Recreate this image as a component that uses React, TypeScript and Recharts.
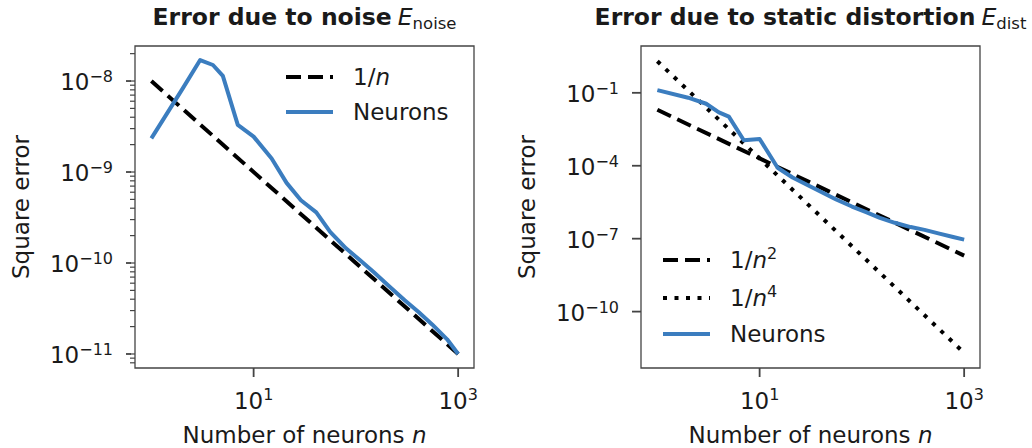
import React from "react";
import { LineChart, Line, XAxis, YAxis, Legend, Label, ReferenceArea } from "recharts";

// number of neurons, shared by both panels
const nNeurons = [1, 2, 3, 4, 5, 7, 10, 15, 21, 29, 41, 56, 80, 110, 150, 210, 300, 410, 560, 780, 1000];
// square error, noise panel
const noiseErr = [
  2.34e-9, 8.1e-9, 1.7e-8, 1.5e-8, 1.14e-8, 3.3e-9, 2.45e-9, 1.41e-9, 7.6e-10, 4.9e-10, 3.6e-10,
  2.2e-10, 1.45e-10, 1.07e-10, 7.9e-11, 5.6e-11, 3.9e-11, 2.9e-11, 2.1e-11, 1.45e-11, 1.0e-11,
];
// square error, static distortion panel
const distErr = [
  0.129, 0.063, 0.0355, 0.0158, 0.0105, 1.12e-3, 1.26e-3, 8.3e-5, 3.3e-5, 1.66e-5, 7.9e-6,
  4.1e-6, 2.1e-6, 1.23e-6, 7.2e-7, 4.5e-7, 3.0e-7, 2.3e-7, 1.66e-7, 1.17e-7, 9.1e-8,
];

// guide lines are straight on log-log axes, so the end points are enough
const guideN = [1, 1000];
const noiseGuide = [1e-8, 1e-11]; // 1/n
const distGuide2 = [2e-2, 2e-8]; // 1/n^2
const distGuide4 = [2, 2e-12]; // 1/n^4

const xTicks = [10, 1000];
const noiseTicks = [1e-8, 1e-9, 1e-10, 1e-11];
const noiseMinor = [
  8e-12, 9e-12, 2e-11, 3e-11, 4e-11, 5e-11, 6e-11, 7e-11, 8e-11, 9e-11, 2e-10, 3e-10, 4e-10, 5e-10,
  6e-10, 7e-10, 8e-10, 9e-10, 2e-9, 3e-9, 4e-9, 5e-9, 6e-9, 7e-9, 8e-9, 9e-9, 2e-8,
];
const distTicks = [1e-1, 1e-4, 1e-7, 1e-10];

const xDomain: [number, number] = [10 ** -0.16, 10 ** 3.155];
const noiseDomain: [number, number] = [10 ** -11.154, 10 ** -7.615];
const distDomain: [number, number] = [10 ** -12.32, 10 ** 0.926];

const FONT = "DejaVu Sans";
const INK = "#1a1a1a";
const FRAME = "#444";
const BLUE = "#3b7dbf";

const PLOT_TOP = 46;
const PLOT_BOTTOM = 368;
const H = 448;
const Y_AXIS_W = 60;
const X_AXIS_H = 40;

type Series = {
  key: string;
  n: number[];
  v: number[];
  stroke: string;
  width: number;
  dash?: string;
  label: React.ReactNode;
};

const toPts = (n: number[], v: number[]) => n.map((x, i) => ({ n: x, v: v[i] }));

const expText = (v: number) => {
  const e = Math.round(Math.log10(v));
  return e < 0 ? "\u2212" + Math.abs(e) : String(e);
};

function Panel(props: {
  left: number;
  width: number;
  padLeft: number;
  padRight: number;
  yDomain: [number, number];
  yTicks: number[];
  yMinor?: number[];
  series: Series[];
  legend: { x: number; y: number; rows: number[] };
  title: React.ReactNode;
}) {
  const { left, width, padLeft, padRight, yDomain, yTicks, yMinor = [], series, legend, title } = props;
  const plotW = width - padLeft - padRight;
  const hasMinor = yMinor.length > 0;

  // axis draws short tick lines; majors get extended here when the axis has minor ticks
  const YTick = (p: any) => {
    const v = p.payload.value;
    const major = yTicks.includes(v);
    if (!major) return <g />;
    return (
      <g>
        {hasMinor && (
          <line x1={padLeft - 4} x2={padLeft - 9} y1={p.y} y2={p.y} stroke={FRAME} strokeWidth={1.8} />
        )}
        <text x={padLeft - 22} y={p.y + 9} textAnchor="end" fontFamily={FONT} fontSize={23} fill={INK}>
          10
          <tspan dy={-8} fontSize={16}>
            {expText(v)}
          </tspan>
        </text>
      </g>
    );
  };

  const XTick = (p: any) => (
    <text x={p.x} y={PLOT_BOTTOM + 41} textAnchor="middle" fontFamily={FONT} fontSize={23} fill={INK}>
      10
      <tspan dy={-9} fontSize={16}>
        {expText(p.payload.value)}
      </tspan>
    </text>
  );

  const yLabel = () => {
    const lx = padLeft - 106;
    const ly = (PLOT_TOP + PLOT_BOTTOM) / 2;
    return (
      <text x={lx} y={ly} transform={`rotate(-90 ${lx} ${ly})`} textAnchor="middle" fontFamily={FONT} fontSize={23} fill={INK}>
        Square error
      </text>
    );
  };

  const xLabel = () => (
    <text x={padLeft + plotW / 2} y={PLOT_BOTTOM + 75} textAnchor="middle" fontFamily={FONT} fontSize={23} fill={INK}>
      Number of neurons <tspan fontStyle="italic">n</tspan>
    </text>
  );

  const renderLegend = () => (
    <svg width={200} height={130} style={{ overflow: "visible" }}>
      {series.map((s, i) => (
        <g key={s.key}>
          <line x1={6} x2={53} y1={legend.rows[i]} y2={legend.rows[i]} stroke={s.stroke} strokeWidth={s.width} strokeDasharray={s.dash} />
          <text x={73} y={legend.rows[i] + 8} fontFamily={FONT} fontSize={23} fill={INK}>
            {s.label}
          </text>
        </g>
      ))}
    </svg>
  );

  return (
    <div style={{ position: "absolute", left, top: 0, width, height: H }}>
      <div
        style={{
          position: "absolute",
          left: padLeft,
          width: plotW,
          top: 5,
          display: "flex",
          justifyContent: "center",
          whiteSpace: "nowrap",
          fontFamily: FONT,
          fontSize: 23.5,
          lineHeight: "24px",
          fontWeight: "bold",
          color: INK,
        }}
      >
        {title}
      </div>
      <LineChart
        width={width}
        height={H}
        margin={{ top: PLOT_TOP, right: padRight, bottom: H - PLOT_BOTTOM - X_AXIS_H, left: padLeft - Y_AXIS_W }}
      >
        <XAxis
          dataKey="n"
          type="number"
          scale="log"
          domain={xDomain}
          allowDataOverflow
          ticks={xTicks}
          height={X_AXIS_H}
          axisLine={false}
          tickLine={{ stroke: FRAME, strokeWidth: 1.8 }}
          tickSize={9}
          tick={XTick}
        >
          <Label content={xLabel} />
        </XAxis>
        <YAxis
          type="number"
          scale="log"
          domain={yDomain}
          allowDataOverflow
          ticks={[...yTicks, ...yMinor]}
          width={Y_AXIS_W}
          axisLine={false}
          tickLine={{ stroke: FRAME, strokeWidth: hasMinor ? 1.2 : 1.8 }}
          tickSize={hasMinor ? 5 : 9}
          tick={YTick}
          interval={0}
        >
          <Label content={yLabel} />
        </YAxis>
        <ReferenceArea
          x1={xDomain[0]}
          x2={xDomain[1]}
          y1={yDomain[0]}
          y2={yDomain[1]}
          ifOverflow="visible"
          fill="none"
          stroke={FRAME}
          strokeWidth={1.3}
        />
        {series.map((s) => (
          <Line
            key={s.key}
            data={toPts(s.n, s.v)}
            dataKey="v"
            stroke={s.stroke}
            strokeWidth={s.width}
            strokeDasharray={s.dash}
            strokeLinejoin="round"
            dot={false}
            activeDot={false}
            isAnimationActive={false}
          />
        ))}
        <Legend
          layout="vertical"
          verticalAlign="middle"
          align="center"
          content={renderLegend}
          wrapperStyle={{ left: legend.x, top: legend.y, width: 200, height: 130 }}
        />
      </LineChart>
    </div>
  );
}

const sup = (t: string) => (
  <tspan dy={-9} fontSize={16}>
    {t}
  </tspan>
);

const noiseSeries: Series[] = [
  { key: "g1", n: guideN, v: noiseGuide, stroke: "#000", width: 4, dash: "15 7", label: <>1/<tspan fontStyle="italic">n</tspan></> },
  { key: "neurons", n: nNeurons, v: noiseErr, stroke: BLUE, width: 4, label: "Neurons" },
];

const distSeries: Series[] = [
  { key: "g2", n: guideN, v: distGuide2, stroke: "#000", width: 4, dash: "15 7", label: <>1/<tspan fontStyle="italic">n</tspan>{sup("2")}</> },
  { key: "g4", n: guideN, v: distGuide4, stroke: "#000", width: 4, dash: "4 7.5", label: <>1/<tspan fontStyle="italic">n</tspan>{sup("4")}</> },
  { key: "neurons", n: nNeurons, v: distErr, stroke: BLUE, width: 4, label: "Neurons" },
];

const mathTitle = (sub: string) => (
  <>
    <span style={{ fontStyle: "italic", fontWeight: "normal", marginLeft: 6 }}>E</span>
    <span style={{ fontWeight: "normal", fontSize: 16.5, position: "relative", top: 4 }}>{sub}</span>
  </>
);

export default function App() {
  return (
    <div style={{ position: "fixed", left: 0, top: 0, width: 1032, height: H, background: "#fff" }}>
      <Panel
        left={0}
        width={520}
        padLeft={135}
        padRight={46}
        yDomain={noiseDomain}
        yTicks={noiseTicks}
        yMinor={noiseMinor}
        series={noiseSeries}
        legend={{ x: 280, y: 60, rows: [17, 52] }}
        title={<span>Error due to noise{mathTitle("noise")}</span>}
      />
      <Panel
        left={500}
        width={532}
        padLeft={141}
        padRight={52}
        yDomain={distDomain}
        yTicks={distTicks}
        series={distSeries}
        legend={{ x: 157, y: 240, rows: [20, 58, 94] }}
        title={<span>Error due to static distortion{mathTitle("dist")}</span>}
      />
    </div>
  );
}
